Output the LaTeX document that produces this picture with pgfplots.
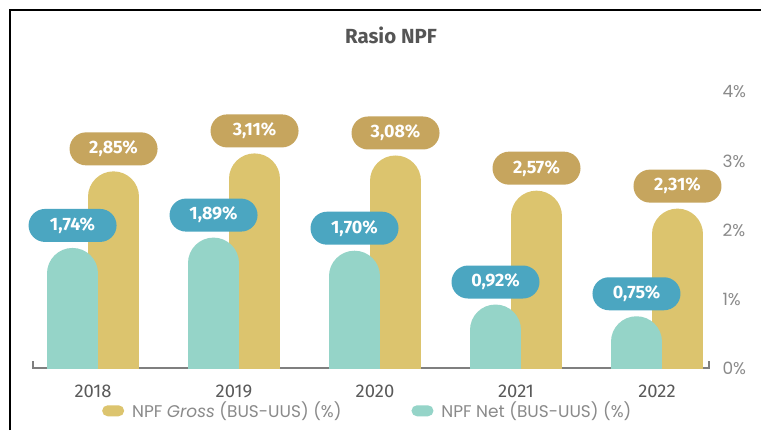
\documentclass[border=0pt]{standalone}
\usepackage{fontspec}
\setmainfont{Fira Sans}
\newfontfamily\popfont{Poppins}
\usepackage{pgfplots}
\pgfplotsset{compat=1.18}
\definecolor{goldbar}{HTML}{DCC46E}
\definecolor{goldpill}{HTML}{C6A55E}
\definecolor{tealbar}{HTML}{95D4C8}
\definecolor{tealpill}{HTML}{4BA6C1}
\definecolor{titlegray}{HTML}{555555}
\definecolor{yeargray}{HTML}{5A5A5A}
\definecolor{tickgray}{HTML}{8A8A8A}
\definecolor{basegray}{HTML}{7F7F7F}
\begin{document}
\begin{tikzpicture}[x=1bp,y=1bp]
\useasboundingbox (0,0) rectangle (761,430);
\fill[white] (0,0) rectangle (761,430);
\draw[black, line width=2.5bp] (10,0) -- (10,420) -- (761,420);
\node[font=\bfseries\fontsize{20.5}{24}\selectfont, text=titlegray] at (391,395) {Rasio NPF};
\begin{axis}[
  at={(33bp,62bp)}, anchor=south west,
  scale only axis, width=676bp, height=276bp,
  xmin=-0.426, xmax=4.369, ymin=0, ymax=4,
  axis x line*=bottom, axis y line*=right,
  x axis line style={draw=basegray, line width=1.5bp},
  y axis line style={draw=none},
  major tick length=0pt,
  xtick={0,1,2,3,4}, xticklabels={2018,2019,2020,2021,2022},
  ytick={0,1,2,3,4}, yticklabels={0\%,1\%,2\%,3\%,4\%},
  xticklabel style={font=\fontsize{18.5}{22}\selectfont, text=yeargray, yshift=-13bp},
  yticklabel style={font=\popfont\fontsize{17}{20}\selectfont, text=tickgray, anchor=west, xshift=10bp},
  clip mode=global,
  /pgf/number format/assume math mode=true,
  legend style={draw=none, fill=none, at={(rel axis cs:0.102,-0.155)}, anchor=west, inner sep=0pt,
    font=\popfont\fontsize{17}{20}\selectfont, nodes={text=tickgray},
    /tikz/every odd column/.append style={column sep=6bp},
    /tikz/every even column/.append style={column sep=68bp}},
  legend columns=2, legend cell align=left,
]
\addplot[ycomb, draw=goldbar, line width=51bp, line cap=round, xshift=20.5bp, yshift=-25.5bp,
  point meta=y,
  nodes near coords={\pgfmathprintnumber[fixed,fixed zerofill,precision=2,use comma]{\pgfplotspointmeta}\%},
  every node near coord/.style={anchor=south, yshift=6bp, fill=goldpill, draw=none, text=white, rounded corners=16.5bp,
    minimum width=88bp, minimum height=33bp, inner sep=0pt, font=\bfseries\fontsize{18}{20}\selectfont},
  legend image code/.code={\path[fill=goldbar, draw=none, line width=0pt, rounded corners=5.5bp] (0bp,20bp) rectangle (22bp,31bp);}
] coordinates {(0,2.85) (1,3.11) (2,3.08) (3,2.57) (4,2.31)};
\addlegendentry{NPF \textit{Gross} (BUS-UUS) (\%)}
\addplot[ycomb, draw=tealbar, line width=51bp, line cap=round, xshift=-20.5bp, yshift=-25.5bp,
  point meta=y,
  nodes near coords={\pgfmathprintnumber[fixed,fixed zerofill,precision=2,use comma]{\pgfplotspointmeta}\%},
  every node near coord/.style={anchor=south, yshift=6bp, fill=tealpill, draw=none, text=white, rounded corners=16.5bp,
    minimum width=88bp, minimum height=33bp, inner sep=0pt, font=\bfseries\fontsize{18}{20}\selectfont},
  legend image code/.code={\path[fill=tealbar, draw=none, line width=0pt, rounded corners=5.5bp] (-4bp,20bp) rectangle (18bp,31bp);}
] coordinates {(0,1.74) (1,1.89) (2,1.70) (3,0.92) (4,0.75)};
\addlegendentry{NPF Net (BUS-UUS) (\%)}
\end{axis}
\draw[basegray, line width=1.5bp] (33,61.25) -- (33,69);
\draw[basegray, line width=1.5bp] (709,61.25) -- (709,69);
\end{tikzpicture}
\end{document}
